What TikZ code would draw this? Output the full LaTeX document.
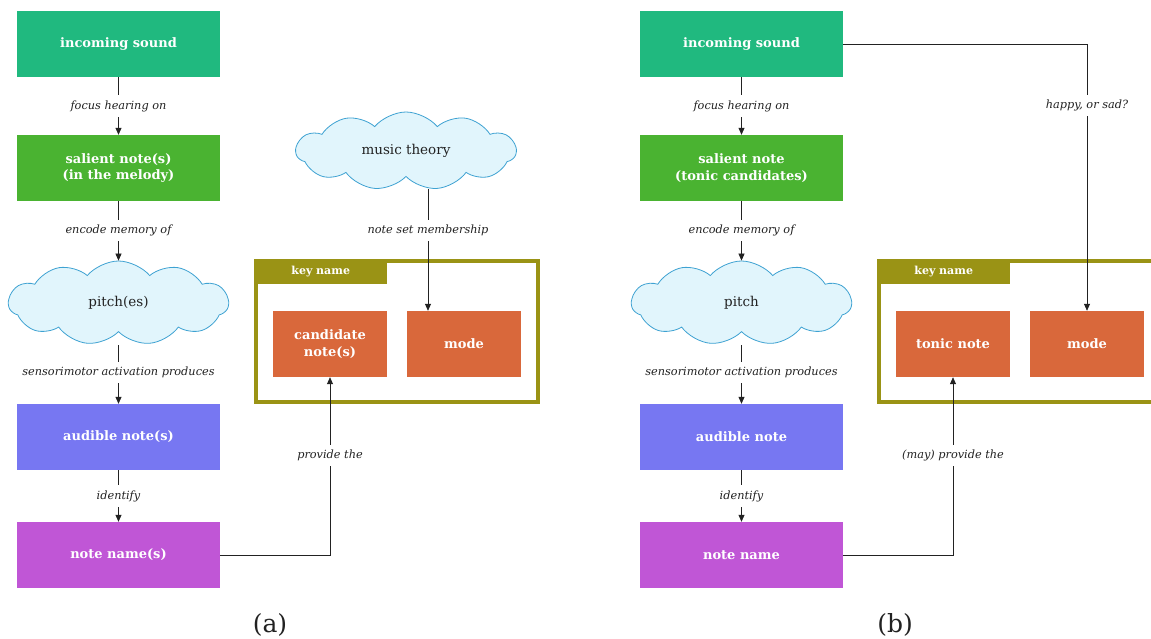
\documentclass[tikz,border=0pt]{standalone}
\usepackage{fontspec}
\setmainfont{DejaVu Serif}
\usetikzlibrary{shapes.symbols,arrows.meta}
\definecolor{cInc}{HTML}{20B97F}
\definecolor{cSal}{HTML}{4AB331}
\definecolor{cAud}{HTML}{7777F2}
\definecolor{cNam}{HTML}{C056D6}
\definecolor{cOra}{HTML}{D9683B}
\definecolor{cOli}{HTML}{9A9315}
\definecolor{cCloudF}{HTML}{E1F5FC}
\definecolor{cCloudD}{HTML}{3EA2D2}
\definecolor{cLine}{HTML}{222222}
\tikzset{
  box/.style={rectangle, minimum width=203pt, minimum height=66pt, text=white,
    font=\bfseries\fontsize{13}{16.5}\selectfont, align=center, inner sep=0pt},
  kbox/.style={rectangle, fill=cOra, minimum width=114pt, minimum height=66pt, text=white,
    font=\bfseries\fontsize{13}{16.5}\selectfont, align=center, inner sep=0pt},
  cloudnode/.style={cloud, cloud puffs=11, cloud puff arc=100, cloud ignores aspect, draw=cCloudD, fill=cCloudF,
    line width=0.8pt, minimum width=220pt, minimum height=84pt, font=\fontsize{13.5}{16}\selectfont, text=cLine},
  keyframe/.style={rectangle, draw=cOli, line width=4pt, minimum width=282pt, minimum height=141pt, inner sep=0pt},
  keytab/.style={rectangle, fill=cOli, anchor=north west, minimum width=133pt, minimum height=25pt,
    text=white, font=\bfseries\fontsize{11}{13}\selectfont, inner sep=0pt},
  lab/.style={fill=white, font=\itshape\fontsize{11.3}{13}\selectfont, text=cLine, inner xsep=2pt, inner ysep=5pt},
  arr/.style={draw=cLine, line width=0.7pt, -{Stealth[length=7pt,width=6pt,inset=0pt]}},
  caption/.style={font=\fontsize{25}{28}\selectfont, text=cLine}
}
\begin{document}
\begin{tikzpicture}[x=1pt,y=-1pt]
\clip (0,0) rectangle (1151,639);
\fill[white] (0,0) rectangle (1151,639);
% ---------------- panel (a)
\node[box, fill=cInc] (a1) at (118.5,44) {incoming sound};
\node[box, fill=cSal] (a2) at (118.5,168) {salient note(s)\\(in the melody)};
\node[cloudnode] (a3) at (118.5,303) {pitch(es)};
\path (a3.center) ++(0,42) coordinate (a3b);
\node[box, fill=cAud] (a4) at (118.5,437) {audible note(s)};
\node[box, fill=cNam] (a5) at (118.5,555) {note name(s)};
\node[cloudnode, minimum height=78pt] (amt) at (406,151) {music theory};
\node[keyframe] (akey) at (397,331.5) {};
\node[keytab] (atab) at (254,259) {key name};
\node[kbox] (acand) at (330,344) {candidate\\note(s)};
\node[kbox] (amode) at (464,344) {mode};
\draw[arr] (a1) -- node[lab] {focus hearing on} (a2);
\draw[arr] (a2) -- node[lab] {encode memory of} (a3);
\draw[arr] (a3b) -- node[lab, pos=0.46] {sensorimotor activation produces} (a4);
\draw[arr] (a4) -- node[lab] {identify} (a5);
\draw[arr] (a5.east) -| node[lab, pos=0.78] {provide the} (acand.south);
\coordinate (amtb) at (428,189);
\draw[arr] (amtb) -- node[lab, pos=0.34] {note set membership} (amtb |- amode.north);
\node[caption] (capa) at (270,625) {(a)};
% ---------------- panel (b)
\node[box, fill=cInc] (b1) at (741.5,44) {incoming sound};
\node[box, fill=cSal] (b2) at (741.5,168) {salient note\\(tonic candidates)};
\node[cloudnode] (b3) at (741.5,303) {pitch};
\path (b3.center) ++(0,42) coordinate (b3b);
\node[box, fill=cAud] (b4) at (741.5,437) {audible note};
\node[box, fill=cNam] (b5) at (741.5,555) {note name};
\node[keyframe] (bkey) at (1020,331.5) {};
\node[keytab] (btab) at (877,259) {key name};
\node[kbox] (btonic) at (953,344) {tonic note};
\node[kbox] (bmode) at (1087,344) {mode};
\draw[arr] (b1) -- node[lab] {focus hearing on} (b2);
\draw[arr] (b2) -- node[lab] {encode memory of} (b3);
\draw[arr] (b3b) -- node[lab, pos=0.46] {sensorimotor activation produces} (b4);
\draw[arr] (b4) -- node[lab] {identify} (b5);
\draw[arr] (b5.east) -| node[lab, pos=0.78] {(may) provide the} (btonic.south);
\draw[arr] (b1.east) -| node[lab, pos=0.615] {happy, or sad?} (bmode.north);
\node[caption] (capb) at (895,625) {(b)};
\end{tikzpicture}
\end{document}
